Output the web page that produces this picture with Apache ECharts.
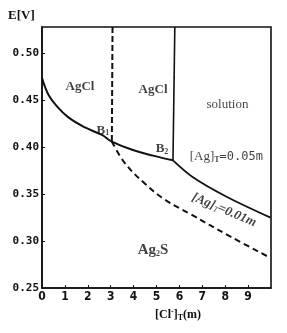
<!DOCTYPE html>
<html>
<head>
<meta charset="utf-8">
<script src="https://cdn.jsdelivr.net/npm/echarts@6/dist/echarts.min.js"></script>
<style>
  html, body { margin: 0; padding: 0; background: #fff; }
  #chart { width: 287px; height: 333px; }
</style>
</head>
<body>
<div id="chart"></div>
<script>
// axis ranges
const xMin = 0, xMax = 10, xStep = 1;
const yMin = 0.25, yMax = 0.528, yStep = 0.05;

// AgCl / Ag2S boundary up to B2 (solid)
const agclBoundary = [
  [0, 0.474], [0.12, 0.465], [0.3, 0.455], [0.6, 0.445], [1.14, 0.432],
  [1.88, 0.421], [2.62, 0.413], [3.05, 0.406], [3.97, 0.397],
  [4.85, 0.391], [5.72, 0.386]
];
// [Ag]T = 0.05m, beyond B2 (solid)
const ag005 = [[5.72, 0.386], [6.59, 0.368], [8.08, 0.347], [9.98, 0.325]];
// [Ag]T = 0.01m, from B1 (dashed)
const ag001 = [
  [3.05, 0.406], [3.62, 0.383], [4.5, 0.361], [5.37, 0.344],
  [6.46, 0.329], [8.21, 0.305], [9.98, 0.282]
];
// vertical boundaries
const b1Vertical = [[3.08, yMax], [3.05, 0.406]];
const b2Vertical = [[5.8, yMax], [5.72, 0.386]];

// text labels: [x, y, text, rotate]
const annotations = [
  [1.66, 0.465, '{b|AgCl}', 0],
  [4.85, 0.461, '{b|AgCl}', 0],
  [8.1, 0.445, '{n|solution}', 0],
  [2.66, 0.418, '{b|B}{s|1}', 0],
  [5.24, 0.398, '{b|B}{s|2}', 0],
  [8.05, 0.390, '{n|[Ag]}{s|T}{m|=0.05m}', 0],
  [7.95, 0.333, '{i|[Ag]}{si|T}{i|=0.01m}', -23],
  [4.85, 0.290, '{bb|Ag}{s|2}{bb|S}', 0]
];

const chart = echarts.init(document.getElementById('chart'));

const lineBase = {
  type: 'line',
  symbol: 'none',
  silent: true,
  animation: false
};

const option = {
  backgroundColor: '#fff',
  animation: false,
  grid: {
    left: 42, right: 16, top: 27, bottom: 45,
    show: true, borderColor: '#111', borderWidth: 1.6
  },
  xAxis: {
    type: 'value',
    min: xMin, max: xMax, interval: xStep,
    axisLine: { lineStyle: { color: '#111', width: 1.6 } },
    axisTick: { inside: true, length: 3, lineStyle: { color: '#111' } },
    splitLine: { show: false },
    axisLabel: {
      color: '#111', fontWeight: 'bold', fontSize: 12,
      fontFamily: 'DejaVu Sans Condensed, DejaVu Sans', margin: 3,
      showMaxLabel: false
    }
  },
  yAxis: {
    type: 'value',
    min: yMin, max: yMax, interval: yStep,
    axisLine: { show: true, lineStyle: { color: '#111', width: 1.6 } },
    axisTick: { show: true, inside: true, length: 3, lineStyle: { color: '#111' } },
    splitLine: { show: false },
    axisLabel: {
      color: '#111', fontWeight: 'bold', fontSize: 11,
      fontFamily: 'DejaVu Sans Mono', margin: 3,
      showMaxLabel: false,
      formatter: v => v.toFixed(2)
    }
  },
  graphic: [
    {
      type: 'text', left: 8, top: 9,
      style: { text: 'E[V]', font: 'bold 13px Liberation Serif', fill: '#111' }
    },
    {
      type: 'text', left: 155, top: 308,
      style: {
        text: '{n|[Cl}{sup|-}{n|]}{s|T}{n|(m)}',
        rich: {
          n: { font: 'bold 12px Liberation Serif', fill: '#111' },
          sup: { font: 'bold 8px Liberation Serif', fill: '#111', verticalAlign: 'top', padding: [0, 0, 6, 0] },
          s: { font: 'bold 8px Liberation Serif', fill: '#111', padding: [6, 0, 0, 0] }
        }
      }
    }
  ],
  series: [
    Object.assign({}, lineBase, {
      data: agclBoundary, smooth: 0.4,
      lineStyle: { color: '#111', width: 2 }
    }),
    Object.assign({}, lineBase, {
      data: ag005, smooth: 0.3,
      lineStyle: { color: '#111', width: 1.8 }
    }),
    Object.assign({}, lineBase, {
      data: ag001, smooth: 0.4,
      lineStyle: { color: '#111', width: 2, type: [6, 4] }
    }),
    Object.assign({}, lineBase, {
      data: b1Vertical,
      lineStyle: { color: '#111', width: 2, type: [6, 3] }
    }),
    Object.assign({}, lineBase, {
      data: b2Vertical,
      lineStyle: { color: '#111', width: 1.6 }
    }),
    {
      type: 'scatter',
      symbolSize: 0,
      silent: true,
      animation: false,
      data: annotations.map(a => ({
        value: [a[0], a[1]],
        label: { formatter: a[2], rotate: a[3] }
      })),
      label: {
        show: true,
        position: 'inside',
        color: '#111',
        rich: {
          b: { fontFamily: 'Liberation Serif', fontWeight: 'bold', fontSize: 13, color: '#111' },
          bb: { fontFamily: 'Liberation Serif', fontWeight: 'bold', fontSize: 15, color: '#111' },
          n: { fontFamily: 'Liberation Serif', fontSize: 13, color: '#111' },
          m: { fontFamily: 'DejaVu Sans Mono', fontSize: 12, color: '#111' },
          i: { fontFamily: 'Liberation Serif', fontStyle: 'italic', fontWeight: 'bold', fontSize: 13, color: '#111' },
          s: { fontFamily: 'Liberation Serif', fontWeight: 'bold', fontSize: 8, color: '#111', padding: [6, 0, 0, 0] },
          si: { fontFamily: 'Liberation Serif', fontStyle: 'italic', fontSize: 8, color: '#111', padding: [6, 0, 0, 0] }
        }
      }
    }
  ]
};

chart.setOption(option);
</script>
</body>
</html>
